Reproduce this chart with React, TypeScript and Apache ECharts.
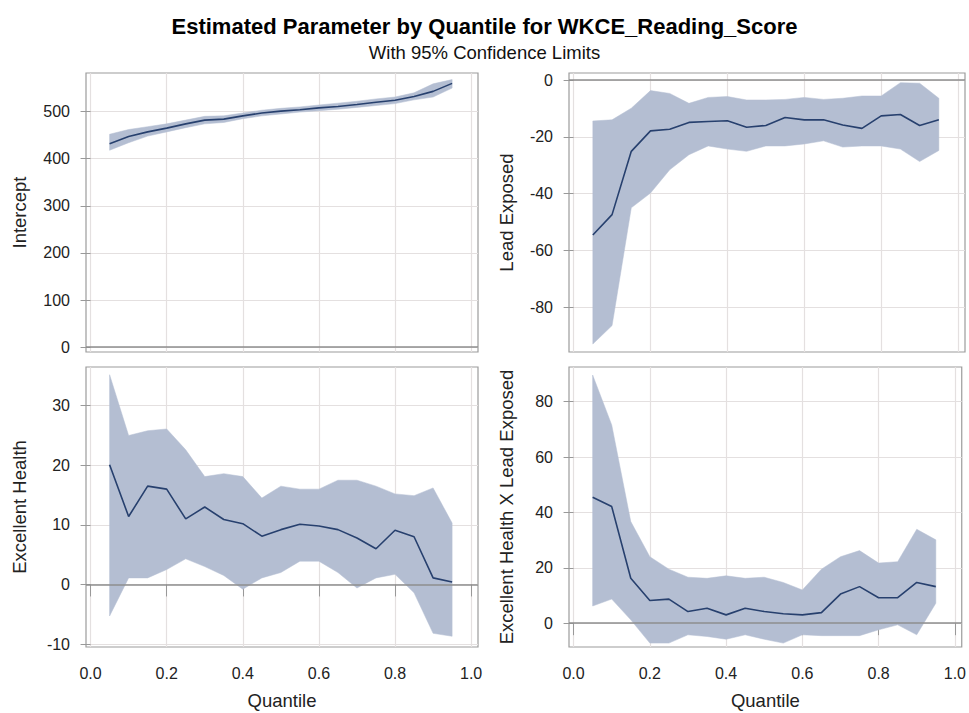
import React, { useEffect, useRef } from "react";
import * as echarts from "echarts";

const quantiles = [0.05, 0.1, 0.15, 0.2, 0.25, 0.3, 0.35, 0.4, 0.45, 0.5, 0.55, 0.6, 0.65, 0.7, 0.75, 0.8, 0.85, 0.9, 0.95];

const interceptEst = [432, 447, 457, 465, 474, 482, 484, 491, 497, 501, 504, 508, 511, 515, 520, 524, 532, 543, 560];
const interceptLo = [418, 434, 448, 457, 466, 474, 477, 485, 491, 495, 499, 502, 505, 509, 513, 517, 525, 531, 550];
const interceptHi = [452, 462, 468, 474, 482, 490, 491, 497, 503, 507, 510, 514, 518, 522, 527, 531, 540, 559, 568];

const leadEst = [-54.6, -47.4, -25.1, -17.9, -17.3, -14.9, -14.6, -14.3, -16.6, -16.0, -13.2, -14.0, -14.0, -15.8, -17.0, -12.6, -12.1, -16.0, -14.0];
const leadLo = [-93, -86.5, -45, -39.8, -31.6, -26.3, -23.2, -24.3, -25.1, -23.2, -23.2, -22.5, -21.4, -23.6, -23.2, -23.2, -24.3, -28.7, -24.8];
const leadHi = [-14.4, -14.0, -9.9, -3.7, -4.7, -8.2, -6.1, -5.8, -7.0, -7.0, -6.8, -6.1, -6.8, -6.4, -5.6, -5.6, -0.9, -1.1, -6.4];

const healthEst = [20.1, 11.4, 16.5, 16.0, 11.0, 13.0, 10.9, 10.2, 8.1, 9.2, 10.1, 9.8, 9.2, 7.8, 6.0, 9.1, 8.0, 1.1, 0.4];
const healthLo = [-5.3, 1.1, 1.1, 2.5, 4.3, 3.0, 1.5, -0.8, 1.1, 2.0, 3.9, 3.9, 2.0, -0.6, 1.1, 1.7, -1.4, -8.2, -8.7];
const healthHi = [35.2, 25.0, 25.8, 26.1, 22.6, 18.1, 18.6, 18.1, 14.5, 16.5, 16.0, 16.0, 17.5, 17.5, 16.5, 15.2, 14.9, 16.2, 10.3];

const interEst = [45.5, 42.1, 16.2, 8.2, 8.7, 4.2, 5.4, 3.0, 5.4, 4.2, 3.4, 3.0, 3.8, 10.5, 13.2, 9.2, 9.2, 14.7, 13.2];
const interLo = [6.2, 8.7, 1.2, -7.2, -7.2, -4.2, -4.8, -5.8, -4.2, -5.8, -7.2, -4.2, -4.5, -4.5, -4.5, -2.4, -0.6, -4.2, 7.2];
const interHi = [89.6, 71.6, 36.7, 24.0, 19.5, 16.6, 16.2, 17.1, 16.2, 16.6, 14.7, 12.0, 19.5, 24.0, 26.2, 21.7, 22.2, 33.9, 30.1];

const xTicks = [0, 0.2, 0.4, 0.6, 0.8, 1.0];
const interceptTicks = [0, 100, 200, 300, 400, 500];
const leadTicks = [-80, -60, -40, -20, 0];
const healthTicks = [-10, 0, 10, 20, 30];
const interTicks = [0, 20, 40, 60, 80];

const titleText = "Estimated Parameter by Quantile for WKCE_Reading_Score";
const subtitleText = "With 95% Confidence Limits";
const xName = "Quantile";

const FONT = "Liberation Sans, Arial, sans-serif";
const BAND = "#b4bed2";
const LINE = "#27406e";
const GRIDC = "#e4e0e0";
const BORDER = "#9c9c9c";

export default function App() {
  const ref = useRef<HTMLDivElement>(null);
  useEffect(() => {
    if (!ref.current) return;
    const chart = echarts.init(ref.current, undefined, { renderer: "svg" });

    const panels = [
      { name: "Intercept", est: interceptEst, lo: interceptLo, hi: interceptHi, ticks: interceptTicks, min: -10.3, max: 582, grid: { left: 86, top: 73, width: 392, height: 279 }, gap: 57, bottom: false },
      { name: "Lead Exposed", est: leadEst, lo: leadLo, hi: leadHi, ticks: leadTicks, min: -95.8, max: 2.5, grid: { left: 569, top: 73, width: 396, height: 279 }, gap: 53, bottom: false },
      { name: "Excellent Health", est: healthEst, lo: healthLo, hi: healthHi, ticks: healthTicks, min: -10.5, max: 36.5, grid: { left: 86, top: 367, width: 392, height: 280 }, gap: 57, bottom: true },
      { name: "Excellent Health X Lead Exposed", est: interEst, lo: interLo, hi: interHi, ticks: interTicks, min: -8.6, max: 92.5, grid: { left: 569, top: 367, width: 396, height: 280 }, gap: 53, bottom: true },
    ];

    const grids: any[] = [];
    const xAxes: any[] = [];
    const yAxes: any[] = [];
    const series: any[] = [];

    panels.forEach((p, i) => {
      grids.push({ ...p.grid, show: true, borderColor: BORDER, borderWidth: 1.2, backgroundColor: "#fff" });
      xAxes.push({
        type: "value",
        gridIndex: i,
        min: -0.012,
        max: 1.018,
        axisLine: { show: false },
        axisTick: { show: p.bottom, length: 12, lineStyle: { color: "#999" }, customValues: xTicks },
        axisLabel: {
          show: p.bottom,
          customValues: xTicks,
          margin: 18,
          fontSize: 16,
          fontFamily: FONT,
          color: "#222",
          formatter: (v: number) => v.toFixed(1),
        },
        splitLine: { show: true, lineStyle: { color: GRIDC, width: 1.2 } },
        name: p.bottom ? xName : "",
        nameLocation: "middle",
        nameGap: 44,
        nameTextStyle: { fontSize: 18.5, fontFamily: FONT, color: "#222" },
      });
      yAxes.push({
        type: "value",
        gridIndex: i,
        min: p.min,
        max: p.max,
        axisLine: { show: false },
        axisTick: { show: true, length: 10, lineStyle: { color: "#999" }, customValues: p.ticks },
        axisLabel: { customValues: p.ticks, margin: 16, fontSize: 16, fontFamily: FONT, color: "#222" },
        splitLine: { show: true, lineStyle: { color: GRIDC, width: 1.2 } },
        name: p.name,
        nameLocation: "middle",
        nameGap: p.gap,
        nameTextStyle: { fontSize: 18.5, fontFamily: FONT, color: "#222" },
      });
      const lo = p.lo;
      const hi = p.hi;
      series.push({
        type: "custom",
        xAxisIndex: i,
        yAxisIndex: i,
        silent: true,
        clip: true,
        z: 2,
        data: quantiles.map((q, k) => [q, lo[k], hi[k]]),
        encode: { x: 0, y: [1, 2] },
        renderItem: (params: any, api: any) => {
          if (params.dataIndex !== 0) return null;
          const pts: number[][] = [];
          for (let k = 0; k < quantiles.length; k++) pts.push(api.coord([quantiles[k], hi[k]]));
          for (let k = quantiles.length - 1; k >= 0; k--) pts.push(api.coord([quantiles[k], lo[k]]));
          return {
            type: "polygon",
            shape: { points: pts },
            style: { fill: BAND, stroke: BAND, lineWidth: 0.5 },
          };
        },
      });
      series.push({
        type: "line",
        xAxisIndex: i,
        yAxisIndex: i,
        symbol: "none",
        silent: true,
        z: 5,
        lineStyle: { color: LINE, width: 1.6 },
        data: quantiles.map((q, k) => [q, p.est[k]]),
        markLine: {
          silent: true,
          symbol: ["none", "none"],
          label: { show: false },
          lineStyle: { color: "#8e8e8e", width: 1.6, type: "solid" },
          data: [{ yAxis: 0 }],
        },
      });
    });

    chart.setOption({
      animation: false,
      backgroundColor: "#fff",
      title: [
        { text: titleText, left: "center", top: 10, textStyle: { fontSize: 22, fontWeight: "bold", fontFamily: FONT, color: "#000" } },
        { text: subtitleText, left: "center", top: 38, textStyle: { fontSize: 18.5, fontWeight: "normal", fontFamily: FONT, color: "#111" } },
      ],
      grid: grids,
      xAxis: xAxes,
      yAxis: yAxes,
      series,
    });
    return () => chart.dispose();
  }, []);
  return <div ref={ref} style={{ position: "absolute", left: 0, top: 0, width: 969, height: 713 }} />;
}
